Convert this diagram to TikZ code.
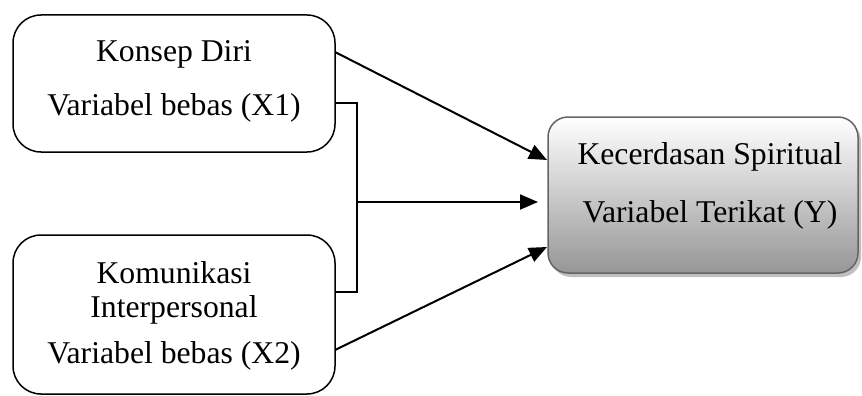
\documentclass[tikz,border=0pt]{standalone}
\usepackage{fontspec}
\setmainfont{Liberation Serif}
\usetikzlibrary{arrows.meta,shadows}
\definecolor{boxedge}{RGB}{100,100,100}
\definecolor{boxbot}{RGB}{150,150,150}
\begin{document}
\begin{tikzpicture}[x=1pt,y=-1pt,
  varbox/.style={draw=black,line width=1.5pt,rounded corners=28pt,inner sep=0pt,outer sep=0pt},
  depbox/.style={draw=boxedge,line width=1.5pt,rounded corners=20pt,inner sep=0pt,outer sep=0pt,
     top color=white,bottom color=boxbot,
     drop shadow={shadow xshift=3pt,shadow yshift=-4pt,fill=black!25,opacity=1}},
  lbl/.style={anchor=base,inner sep=0pt,font=\fontsize{31.7}{38}\selectfont},
  conn/.style={line width=2pt},
  arr/.style={line width=2pt,-{Triangle[length=18pt,width=15pt]}}]
\path[use as bounding box] (0,0) rectangle (862,396);
% boxes
\node[varbox,minimum width=322pt,minimum height=137pt] (b1) at (174,83.5) {};
\node[varbox,minimum width=322pt,minimum height=159pt] (b2) at (174,314.5) {};
\node[depbox,minimum width=310pt,minimum height=156pt] (y) at (703,195) {};
% texts
\node[lbl] (t1) at (174,62) {Konsep Diri};
\node[lbl] (t2) at (174,115) {Variabel bebas (X1)};
\node[lbl] (t3) at (174,283) {Komunikasi};
\node[lbl] (t4) at (174,317) {Interpersonal};
\node[lbl] (t5) at (174,363) {Variabel bebas (X2)};
\node[lbl] (t6) at (710,164) {Kecerdasan Spiritual};
\node[lbl] (t7) at (710,222) {Variabel Terikat (Y)};
% connector points
\coordinate (s1) at (335,52);
\coordinate (e1) at (547,160);
\coordinate (s2) at (335,350);
\coordinate (e2) at (547,247);
\coordinate (k1) at (335,103);
\coordinate (k2) at (357,103);
\coordinate (k3) at (357,292);
\coordinate (k4) at (335,292);
\coordinate (km) at (357,202);
\coordinate (em) at (538,202);
% connectors
\draw[arr] (s1) -- (e1);
\draw[arr] (s2) -- (e2);
\draw[conn] (k1) -- (k2) -- (k3) -- (k4);
\draw[arr] (km) -- (em);
\end{tikzpicture}
\end{document}
